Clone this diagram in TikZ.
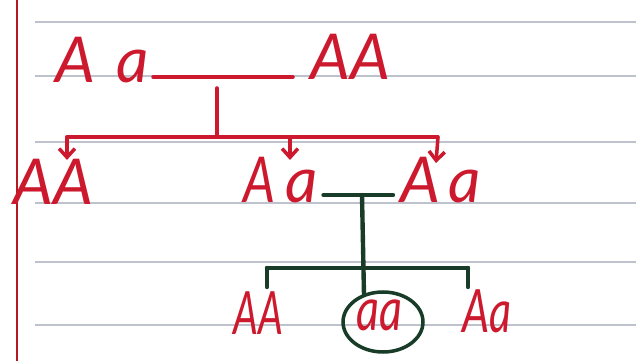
\documentclass[tikz,border=0pt]{standalone}
\usepackage{fontspec}
\setmainfont{Lato}
\usetikzlibrary{arrows.meta,calc}
\definecolor{ink}{RGB}{205,25,45}
\definecolor{gink}{RGB}{25,60,40}
\definecolor{rulec}{RGB}{190,194,204}
\definecolor{margin}{RGB}{180,25,35}
\begin{document}
\begin{tikzpicture}[x=0.02cm,y=-0.02cm,
  geno/.style={text=ink, font=\fontsize{36}{36}\selectfont\itshape, inner sep=0pt, anchor=base west},
  small/.style={font=\fontsize{34}{34}\selectfont\itshape},
  redline/.style={draw=ink, line width=2pt, line cap=round},
  grnline/.style={draw=gink, line width=2.5pt, line cap=round},
  redarrow/.style={redline, -{Straight Barb[length=5pt,width=9pt]}},
  paperrule/.style={draw=rulec, line width=1.2pt}]
\useasboundingbox[fill=white] (0,0) rectangle (636,361);
% ruled paper
\foreach \yy in {22,76,142,203,262,325} \draw[paperrule] (35,\yy) -- (636,\yy);
\draw[margin, line width=1.1pt] (17,0) -- (17,361);
% genotypes
\node[geno] (p1) at (55,83) {A\,\,a};
\node[geno] (p2) at (310,80) {AA};
\node[geno] (c1) at (13,205) {AA};
\node[geno] (c2) at (243,203) {\scalebox{0.8}[1]{A}\kern6pt a};
\node[geno] (c3) at (400,203) {A\kern5pt a};
\node[geno,small] (g1) at (233,335) {\scalebox{0.66}[1]{AA}};
\node[geno,small] (g2) at (356,331) {\scalebox{0.75}[1]{aa}};
\node[geno,small] (g3) at (462,333) {\scalebox{0.72}[1]{Aa}};
% junction coordinates
\coordinate (m1) at (217,77);
\coordinate (d1) at (217,137);
\coordinate (bl) at (67,137);
\coordinate (bm) at (290,137);
\coordinate (br) at (438,137);
\coordinate (m2) at (362,195);
\coordinate (gl) at (267,268);
\coordinate (gr) at (468,268);
% first cross
\draw[redline] ($(p1.east |- m1)+(4,0)$) -- ($(p2.west |- m1)+(-17,0)$);
\draw[redline] ($(m1)+(0,11)$) -- (d1);
\draw[redline] (bl) -- (br);
\draw[redarrow] (bl) -- (67,160);
\draw[redarrow] (bm) -- (290,160);
\draw[redarrow] (br) -- (436,163);
% second cross
\draw[grnline] ($(c2.east |- m2)+(5,0)$) -- ($(c3.west |- m2)+(-7,0)$);
\draw[grnline] (m2) -- (364,295);
\draw[grnline] (gl) -- (gr);
\draw[grnline] (gl) -- (267,287);
\draw[grnline] (gr) -- (468,287);
\draw[gink, line width=2pt] (383,322) ellipse [x radius=0.8cm, y radius=0.6cm];
\end{tikzpicture}
\end{document}
